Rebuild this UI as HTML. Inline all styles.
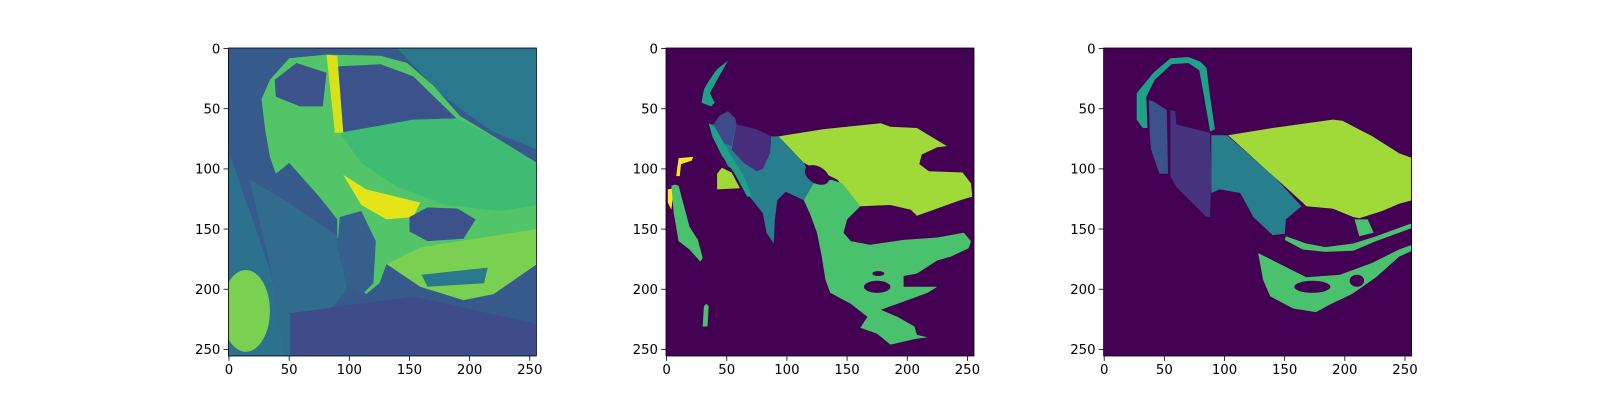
<!DOCTYPE html>
<html><head><meta charset="utf-8">
<style>
body{margin:0;background:#fff;}
svg{display:block;font-family:"DejaVu Sans","Liberation Sans",sans-serif;}
</style></head>
<body>
<svg id="fig" width="1600" height="400" viewBox="0 0 1600 400"></svg>
<script>
// ---- data ----
const tickValues = [0, 50, 100, 150, 200, 250];
const tickLabels = ["0", "50", "100", "150", "200", "250"];
const imageSize = [256, 256];
const panelNames = ["input-image", "predicted-mask", "ground-truth-mask"];

// panel 1 regions: [name, color, points(data coords)]
const photoRegions = [
  ["other-car", "#2a788e", [[140,0],[256,0],[256,84],[217,68],[175,37]]],
  ["left-car", "#2c718e", [[0,87],[7,106],[34,184],[49,256],[0,256]]],
  ["gravel", "#2f6c8e", [[17,109],[51,129],[90,156],[98,200],[70,234],[51,256],[46,256],[34,179]]],
  ["ground", "#3e4c8a", [[51,220],[153,206],[256,229],[256,256],[51,256]]],
  ["car-body", "#52c569", [[34,26],[50,8],[81,5],[126,6],[148,12],[170,31],[192,56],[225,76],[256,95],[256,179],[220,204],[195,209],[159,198],[131,179],[125,195],[114,204],[98,190],[90,156],[90,142],[75,123],[50,95],[39,104],[34,90],[30,67],[27,42]]],
  ["hood", "#3fbc73", [[92,70],[153,59],[189,58],[225,76],[256,95],[256,130],[225,135],[180,130],[140,115],[110,95]]],
  ["windshield", "#3b528b", [[87,15],[126,13],[153,23],[189,58],[153,59],[92,70]]],
  ["side-window", "#3b528b", [[38,26],[56,12],[81,20],[78,48],[59,48],[39,40]]],
  ["highlight", "#e5e419", [[95,105],[114,117],[159,128],[153,140],[131,142],[110,130]]],
  ["highlight-pillar", "#d8e219", [[81,5],[90,6],[95,70],[88,70]]],
  ["bumper", "#7ad151", [[131,179],[160,165],[256,150],[256,179],[220,204],[195,209],[159,198]]],
  ["grille", "#2a788e", [[160,188],[215,182],[212,195],[165,198]]],
  ["wheel", "#355f8d", [[92,140],[110,135],[122,160],[120,195],[110,205],[98,195],[90,165]]],
  ["headlight", "#3b528b", [[150,140],[165,132],[190,133],[205,142],[195,158],[165,160],[150,152]]]
];
const photoEllipses = [["mirror", "#7ad151", 14, 218, 20, 34]];

// panel 2 (predicted)
const predRegions = [
  ["hood", "#a0da39", [[93,73],[130,67],[178,62],[186,65],[208,66],[233,81],[225,82],[212,88],[210,96],[218,102],[246,103],[253,112],[254,123],[244,126],[222,134],[208,139],[203,134],[186,130],[161,131],[142,109],[114,95]]],
  ["door-teal", "#277f8e", [[87,73],[93,73],[114,95],[122,112],[114,126],[99,119],[92,126],[90,142],[89,162],[83,153],[80,137],[69,123],[61,103],[51,98],[39,73],[35,63],[39,63],[44,56],[51,52],[57,58],[58,63]]],
  ["mirror-blue", "#3e4a89", [[44,56],[51,52],[57,58],[58,63],[54,81],[46,78],[39,63]]],
  ["window-purple", "#472d7b", [[58,63],[75,67],[87,73],[86,87],[80,100],[75,102],[64,95],[54,84]]],
  ["front-green", "#4ac16d", [[114,126],[122,112],[137,109],[146,112],[161,131],[150,142],[147,153],[153,160],[169,163],[197,159],[225,157],[247,153],[253,160],[251,166],[236,173],[225,176],[208,187],[197,189],[197,198],[225,198],[217,203],[192,212],[178,217],[192,223],[206,231],[208,238],[217,240],[208,241],[186,246],[175,237],[161,232],[167,223],[153,212],[136,203],[132,192],[129,173],[125,153],[119,137]]],
  ["roof-cyan", "#1fa187", [[51,10],[42,17],[35,27],[31,34],[29,45],[37,48],[40,45],[36,37],[42,26]]],
  ["pillar-cyan", "#1fa187", [[35,62],[40,65],[53,88],[64,106],[71,123],[67,123],[56,103],[46,89],[38,73]]],
  ["lime-blob", "#a0da39", [[46,99],[54,103],[61,116],[42,117],[42,104]]],
  ["yellow-1", "#fde725", [[10,91],[22,90],[21,93],[12,96],[11,106],[8,106],[9,98]]],
  ["yellow-2", "#fde725", [[1,117],[6,116],[4,134],[1,128]]],
  ["left-green", "#4ac16d", [[7,113],[10,114],[19,148],[26,159],[30,174],[28,177],[19,167],[10,160],[6,137],[4,114]]],
  ["bottom-green", "#4ac16d", [[33,212],[35,214],[34,231],[30,231],[31,214]]]
];
const predHoles = [["hood-hole", 125, 105, 11, 7, 30], ["grille-hole", 175, 198, 11, 5, 0], ["small-hole", 176, 187, 5, 2, 0]];

// panel 3 (ground truth)
const gtRegions = [
  ["arch-cyan", "#1fa187", [[27,51],[27,37],[41,20],[55,8],[70,7],[80,11],[85,16],[88,40],[92,67],[88,69],[83,40],[79,18],[70,12],[56,13],[42,26],[35,40],[36,66],[32,66],[27,59]]],
  ["mirror-blue", "#3b528b", [[37,43],[41,44],[52,51],[53,104],[46,104],[39,84],[38,73]]],
  ["window-purple", "#46337e", [[55,51],[59,52],[60,63],[88,70],[89,106],[88,140],[85,140],[74,129],[60,115],[55,106]]],
  ["fender-teal", "#277f8e", [[89,72],[102,72],[141,106],[164,131],[151,142],[150,154],[140,155],[124,140],[113,120],[96,117],[89,120]]],
  ["hood", "#a0da39", [[103,72],[140,66],[190,59],[198,60],[223,73],[245,87],[256,91],[256,126],[245,129],[231,135],[212,141],[207,140],[190,133],[168,131],[165,128]]],
  ["bumper-upper", "#4ac16d", [[151,156],[168,162],[184,165],[207,162],[226,156],[245,149],[256,145],[256,149],[245,153],[226,160],[207,168],[184,169],[165,167],[150,159]]],
  ["bumper-chunk", "#4ac16d", [[208,142],[219,142],[224,153],[212,156]]],
  ["bumper-lower", "#4ac16d", [[128,170],[146,179],[168,190],[196,188],[223,178],[245,167],[256,163],[256,168],[245,173],[226,190],[206,204],[187,213],[176,219],[157,216],[138,206],[132,192]]]
];
const gtHoles = [["fog-hole", 173, 198, 15, 5, 0], ["vent-hole", 210, 193, 6, 5, 0]];

// ---- layout ----
const NS = "http://www.w3.org/2000/svg";
const fig = document.getElementById("fig");
const panelLeft = [228.4, 666, 1103.6];
const top0 = 48, side = 308;
const sc = side / imageSize[0];

function mk(tag, attrs, parent) {
  const e = document.createElementNS(NS, tag);
  for (const k in attrs) e.setAttribute(k, attrs[k]);
  parent.appendChild(e);
  return e;
}
function xs(i, v) { return panelLeft[i] + (v + 0.5) * sc; }
function ys(v) { return top0 + (v + 0.5) * sc; }

function drawPanel(i, bg, regions, ellipses, holes) {
  const g = mk("g", {}, fig);
  
  
  const clipId = "clip" + i;
  const cp = mk("clipPath", { id: clipId }, g);
  mk("rect", { x: panelLeft[i], y: top0, width: side, height: side }, cp);
  const img = mk("g", { "clip-path": "url(#" + clipId + ")" }, g);
  const bgr = mk("rect", { x: panelLeft[i], y: top0, width: side, height: side, fill: bg }, img);
  
  
  regions.forEach(r => {
    const pts = r[2].map(p => xs(i, p[0]).toFixed(1) + "," + ys(p[1]).toFixed(1)).join(" ");
    const p = mk("polygon", { points: pts, fill: r[1] }, img);
    
    
  });
  (ellipses || []).forEach(e => {
    const el = mk("ellipse", { cx: xs(i, e[2]), cy: ys(e[3]), rx: e[4] * sc, ry: e[5] * sc, fill: e[1] }, img);
    
    
  });
  (holes || []).forEach(h => {
    const cx = xs(i, h[1]), cy = ys(h[2]);
    const el = mk("ellipse", { cx: cx, cy: cy, rx: h[3] * sc, ry: h[4] * sc, fill: "#440154", transform: "rotate(" + h[5] + " " + cx + " " + cy + ")" }, img);
    
    
  });
  const fr = mk("rect", { x: panelLeft[i], y: top0, width: side, height: side, fill: "none", stroke: "#000", "stroke-width": 0.8 }, g);
  
  
  tickValues.forEach((v, k) => {
    const x = xs(i, v), y = ys(v);
    const tx = mk("line", { x1: x, y1: top0 + side, x2: x, y2: top0 + side + 4.9, stroke: "#000", "stroke-width": 0.8 }, g);
    
    
    const lx = mk("text", { x: x, y: top0 + side + 18, "text-anchor": "middle", "font-size": 13.3, fill: "#000" }, g);
    lx.textContent = tickLabels[k];
    
    
    const ty = mk("line", { x1: panelLeft[i] - 4.9, y1: y, x2: panelLeft[i], y2: y, stroke: "#000", "stroke-width": 0.8 }, g);
    
    
    const ly = mk("text", { x: panelLeft[i] - 8, y: y + 4.8, "text-anchor": "end", "font-size": 13.3, fill: "#000" }, g);
    ly.textContent = tickLabels[k];
    
    
  });
}
drawPanel(0, "#375a8c", photoRegions, photoEllipses, []);
drawPanel(1, "#440154", predRegions, [], predHoles);
drawPanel(2, "#440154", gtRegions, [], gtHoles);
</script>
</body></html>
